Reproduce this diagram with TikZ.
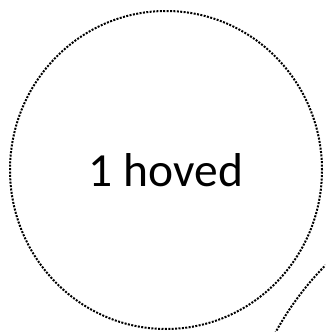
\documentclass[tikz,border=0pt]{standalone}
\usepackage{fontspec}
\setmainfont{Carlito}
\usetikzlibrary{positioning,shapes.geometric}
\tikzset{
  dotline/.style={draw=black,line width=2pt,line cap=butt,dash pattern=on 2pt off 1.4pt},
  lbl/.style={font=\fontsize{47.5}{52}\selectfont,inner sep=0pt},
}
\begin{document}
\begin{tikzpicture}[x=1pt,y=1pt]
  \useasboundingbox (0,0) rectangle (325,332);
  \clip (0,0) rectangle (325,332);
  % head
  \node[dotline,ellipse,minimum width=312pt,minimum height=318pt,inner sep=0pt] (hoved) at (166,162) {};
  \path (hoved.center) ++(0,-17) node[lbl,anchor=base] (hovedtxt) {1 hoved};
  % neighbour, mostly off the page
  \node[dotline,circle,minimum size=600pt,inner sep=0pt] (nabo) at (539,-144) {};
\end{tikzpicture}
\end{document}
